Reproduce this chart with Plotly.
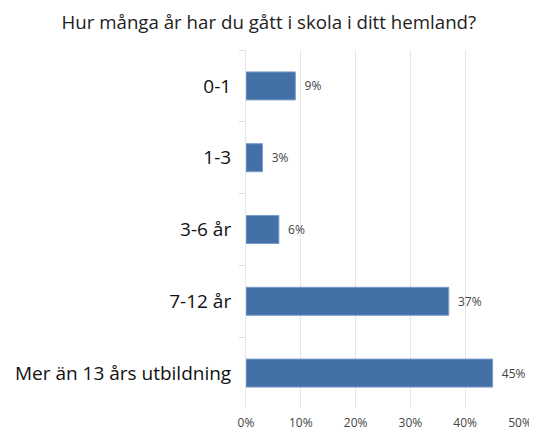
import plotly.graph_objects as go

categories = ["0-1", "1-3", "3-6 år", "7-12 år", "Mer än 13 års utbildning"]
values = [9, 3, 6, 37, 45]
labels = ["9%", "3%", "6%", "37%", "45%"]
tick_vals = [0, 10, 20, 30, 40, 50]
tick_text = ["0%", "10%", "20%", "30%", "40%", "50%"]

FONT = "Open Sans"

fig = go.Figure(go.Bar(
    x=values, y=categories, orientation="h",
    marker=dict(color="#4470a8", line=dict(color="#7a9ccb", width=1)),
    text=["  " + s for s in labels], textposition="outside",
    textfont=dict(size=12, color="#444444", family=FONT),
    cliponaxis=False,
    width=0.39,
))

# page body has an 8px default margin, so the figure is sized 8px smaller
fig.update_layout(
    width=529, height=422,
    margin=dict(l=238, r=17, t=42, b=21),
    paper_bgcolor="white", plot_bgcolor="white",
    font=dict(family=FONT, color="#222222"),
    title=dict(text="Hur många år har du gått i skola i ditt hemland?",
               x=0.493, xanchor="center", y=1 - 14 / 422, yanchor="middle",
               yref="container", xref="container",
               font=dict(size=18.7, color="#222222", family=FONT)),
    showlegend=False,
    xaxis=dict(range=[0, 50], tickvals=tick_vals, ticktext=tick_text,
               showgrid=True, gridcolor="#e6e6e6", gridwidth=1,
               zeroline=False, showline=False, automargin=False,
               ticks="outside", ticklen=3, tickcolor="rgba(0,0,0,0)",
               tickfont=dict(size=12, color="#444444")),
    yaxis=dict(autorange="reversed", tickfont=dict(size=19, color="#111111"),
               ticks="outside", tickson="boundaries", ticklen=6,
               tickcolor="#dddddd", showline=True, linecolor="#e6e6e6",
               showgrid=False, ticklabelstandoff=10, automargin=False),
)

fig.write_html("out.html")
